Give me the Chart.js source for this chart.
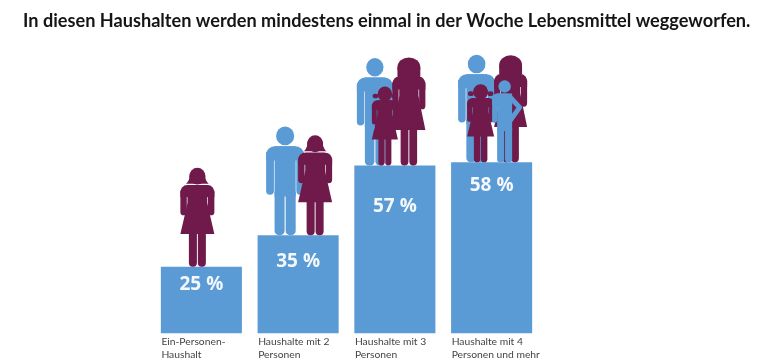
<!DOCTYPE html>
<html>
<head>
<meta charset="utf-8">
<style>
  html, body { margin: 0; padding: 0; background: #fff; }
  #wrap { width: 760px; height: 360px; }
</style>
<script src="https://cdn.jsdelivr.net/npm/chart.js@4/dist/chart.umd.min.js"></script>
</head>
<body>
<div id="wrap"><canvas id="chart" width="760" height="360"></canvas></div>
<script>
const titleText = 'In diesen Haushalten werden mindestens einmal in der Woche Lebensmittel weggeworfen.';
const categories = [
  ['Ein-Personen-', 'Haushalt'],
  ['Haushalte mit 2', 'Personen'],
  ['Haushalte mit 3', 'Personen'],
  ['Haushalte mit 4', 'Personen und mehr']
];
const shares = [25, 35, 57, 58];

const BLUE = '#5b9bd5';
const PURPLE = '#6f1a4b';

// Abstand des Prozentwerts unter der Balkenoberkante
const labelOffsets = [18, 26, 41, 23];

// Figuren je Balken: dx ab Balkenmitte, Breite/Hoehe in px
const people = [
  [{ draw: woman, color: PURPLE, dx: -4, w: 34, h: 99, hair: 'flips' }],
  [{ draw: man, color: BLUE, dx: -13, w: 38, h: 109 },
   { draw: woman, color: PURPLE, dx: 17, w: 34, h: 100, hair: 'flips' }],
  [{ draw: man, color: BLUE, dx: -20, w: 36, h: 108 },
   { draw: woman, color: PURPLE, dx: 14, w: 33, h: 108, hair: 'bob' },
   { draw: woman, color: PURPLE, dx: -10, w: 26, h: 79, hair: 'pigtails' }],
  [{ draw: man, color: BLUE, dx: -15, w: 37, h: 108 },
   { draw: woman, color: PURPLE, dx: 19, w: 33, h: 107, hair: 'bob' },
   { draw: woman, color: PURPLE, dx: -11, w: 27, h: 78, hair: 'pigtails' },
   { draw: boy, color: BLUE, dx: 15.5, w: 30, h: 82 }]
];

function bar(ctx, x, y, w, h, r) {
  ctx.beginPath();
  ctx.roundRect(x, y, w, h, r);
  ctx.fill();
}

function blob(ctx, x, y, rx, ry) {
  ctx.beginPath();
  ctx.ellipse(x, y, rx, ry, 0, 0, Math.PI * 2);
  ctx.fill();
}

// alle Figuren in einem Raster 36 breit / 100 hoch, Mitte x=0, Fuesse y=100
function man(ctx) {
  blob(ctx, 0, 9, 8.6, 8.6);
  bar(ctx, -18, 18.5, 36, 13, [8, 8, 0, 0]);
  bar(ctx, -18, 24, 7.4, 39, [0, 0, 3.7, 3.7]);
  bar(ctx, 10.6, 24, 7.4, 39, [0, 0, 3.7, 3.7]);
  bar(ctx, -10, 18.5, 20, 46, 0);
  bar(ctx, -10, 60, 9.5, 40, [0, 0, 4, 4]);
  bar(ctx, 0.5, 60, 9.5, 40, [0, 0, 4, 4]);
}

function woman(ctx, fig) {
  if (fig.hair === 'bob') {
    blob(ctx, 0, 9, 12.5, 9);
    bar(ctx, -12.5, 9, 25, 9, 1);
  } else if (fig.hair === 'pigtails') {
    blob(ctx, 0, 9.5, 10, 9.5);
    blob(ctx, -13, 12, 4, 3);
    blob(ctx, 13, 12, 4, 3);
  } else {
    blob(ctx, 0, 8.5, 8.5, 8.5);
    ctx.beginPath();
    ctx.moveTo(-12, 16);
    ctx.quadraticCurveTo(-8, 13, -8, 6);
    ctx.lineTo(8, 6);
    ctx.quadraticCurveTo(8, 13, 12, 16);
    ctx.closePath();
    ctx.fill();
  }
  bar(ctx, -18, 17.5, 36, 12, [7, 7, 0, 0]);
  bar(ctx, -18, 23, 6.8, 25, [0, 0, 3.4, 3.4]);
  bar(ctx, 11.2, 23, 6.8, 25, [0, 0, 3.4, 3.4]);
  bar(ctx, -10.5, 17.5, 21, 24, 0);
  ctx.beginPath();
  ctx.moveTo(-10.5, 36);
  ctx.lineTo(10.5, 36);
  ctx.lineTo(18, 67);
  ctx.lineTo(-18, 67);
  ctx.closePath();
  ctx.fill();
  bar(ctx, -9, 66, 8.5, 34, [0, 0, 4, 4]);
  bar(ctx, 0.5, 66, 8.5, 34, [0, 0, 4, 4]);
}

function boy(ctx) {
  blob(ctx, -3, 7.5, 7.5, 7.5);
  bar(ctx, -18, 16, 24, 14, [6, 6, 0, 0]);
  bar(ctx, -18, 20, 6, 32, [0, 0, 3, 3]);
  bar(ctx, -12, 16, 18, 46, 0);
  bar(ctx, -12, 58, 8.5, 42, [0, 0, 3, 3]);
  bar(ctx, -2.5, 58, 8.5, 42, [0, 0, 3, 3]);
  ctx.lineWidth = 6;
  ctx.lineCap = 'round';
  ctx.lineJoin = 'round';
  ctx.beginPath();
  ctx.moveTo(3, 20);
  ctx.lineTo(15, 33);
  ctx.lineTo(3, 50);
  ctx.stroke();
}

const peoplePlugin = {
  id: 'people',
  afterDatasetsDraw(chart) {
    const ctx = chart.ctx;
    const bars = chart.getDatasetMeta(0).data;
    bars.forEach((el, i) => {
      people[i].forEach(fig => {
        ctx.save();
        ctx.translate(el.x + fig.dx, el.y - fig.h);
        ctx.scale(fig.w / 36, fig.h / 100);
        ctx.fillStyle = fig.color;
        ctx.strokeStyle = fig.color;
        fig.draw(ctx, fig);
        ctx.restore();
      });
      ctx.save();
      ctx.fillStyle = '#f4f8fc';
      ctx.font = '700 19px "Open Sans"';
      ctx.textAlign = 'center';
      ctx.textBaseline = 'middle';
      ctx.fillText(shares[i] + ' %', el.x, el.y + labelOffsets[i]);
      ctx.restore();
    });
    // Titel laeuft ueber die volle Breite, nicht nur ueber die Balken
    ctx.save();
    ctx.fillStyle = '#151515';
    ctx.font = '700 18.15px Lato';
    ctx.textAlign = 'left';
    ctx.textBaseline = 'middle';
    ctx.fillText(titleText, 23, 21);
    ctx.restore();
  }
};

new Chart(document.getElementById('chart').getContext('2d'), {
  type: 'bar',
  data: {
    labels: categories,
    datasets: [{
      data: shares,
      backgroundColor: BLUE,
      barPercentage: 0.838,
      categoryPercentage: 1
    }]
  },
  options: {
    responsive: false,
    animation: false,
    layout: { padding: { left: 153, right: 220, top: 50, bottom: -3 } },
    plugins: {
      legend: { display: false },
      tooltip: { enabled: false },
      title: { display: false }
    },
    scales: {
      x: {
        grid: { display: false, drawTicks: false },
        border: { display: false },
        ticks: {
          color: '#444',
          align: 'start',
          labelOffset: -40,
          maxRotation: 0,
          autoSkip: false,
          padding: 2,
          font: { family: 'Lato', size: 10.3, lineHeight: 1.25 }
        }
      },
      y: {
        display: false,
        min: 4,
        max: 93.5
      }
    }
  },
  plugins: [peoplePlugin]
});
</script>
</body>
</html>
